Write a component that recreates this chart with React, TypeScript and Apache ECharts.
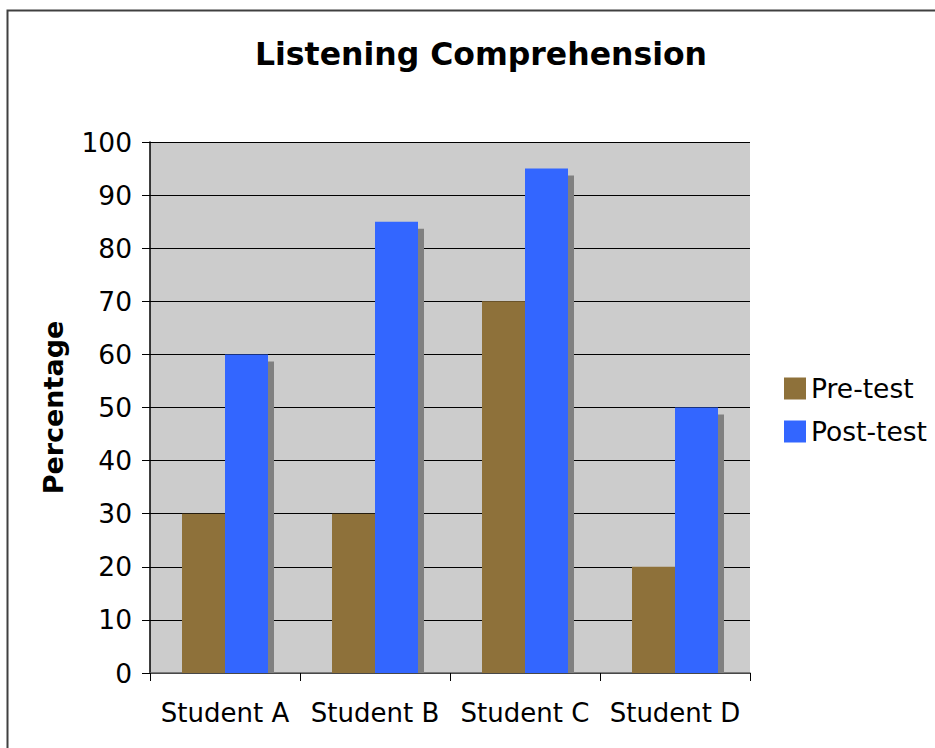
import React, { useEffect, useRef } from "react";
import * as echarts from "echarts";

const categories = ["Student A", "Student B", "Student C", "Student D"];
const preTest = [30, 30, 70, 20];
const postTest = [60, 85, 95, 50];
const seriesNames = ["Pre-test", "Post-test"];
const titleText = "Listening Comprehension";
const yAxisName = "Percentage";

const FONT = "'DejaVu Sans', Verdana, sans-serif";
const BAR_W = 43;

export default function App() {
  const ref = useRef<HTMLDivElement>(null);
  useEffect(() => {
    document.body.style.margin = "0";
    const chart = echarts.init(ref.current!, null, { renderer: "svg" });
    chart.setOption({
      animation: false,
      backgroundColor: "#ffffff",
      textStyle: { fontFamily: FONT },
      title: {
        text: titleText,
        left: 476,
        top: 33,
        textAlign: "center",
        textStyle: { fontFamily: FONT, fontSize: 31.5, fontWeight: "bold", color: "#000" },
      },
      legend: {
        data: seriesNames,
        orient: "vertical",
        left: 779,
        top: 370,
        itemWidth: 22,
        itemHeight: 22,
        itemGap: 16,
        icon: "rect",
        textStyle: { fontFamily: FONT, fontSize: 26.5, lineHeight: 22, color: "#000" },
      },
      graphic: [
        {
          type: "rect",
          shape: { x: 7.5, y: 10.5, width: 1000, height: 1000 },
          style: { fill: "none", stroke: "#404040", lineWidth: 2 },
          silent: true,
        },
      ],
      grid: {
        left: 150,
        top: 142,
        width: 600,
        height: 531,
        show: true,
        backgroundColor: "#CCCCCC",
        borderWidth: 0,
      },
      xAxis: {
        type: "category",
        data: categories,
        axisLine: { show: true, lineStyle: { color: "#606060", width: 1.5 } },
        axisTick: { show: true, alignWithLabel: false, length: 8, lineStyle: { color: "#000" } },
        axisLabel: { fontFamily: FONT, fontSize: 26, color: "#000", margin: 27, interval: 0 },
      },
      yAxis: {
        type: "value",
        min: 0,
        max: 100,
        interval: 10,
        name: yAxisName,
        nameLocation: "middle",
        nameRotate: 90,
        nameGap: 83,
        nameTextStyle: { fontFamily: FONT, fontSize: 27, fontWeight: "bold", color: "#000" },
        axisLine: { show: true, lineStyle: { color: "#000", width: 1.5 } },
        axisTick: { show: true, length: 8, lineStyle: { color: "#000" } },
        axisLabel: { fontFamily: FONT, fontSize: 26.5, color: "#000", margin: 18 },
        splitLine: { show: true, lineStyle: { color: "#000", width: 1 } },
      },
      series: [
        {
          name: "shadow",
          type: "custom",
          z: 1,
          data: postTest.map((v, i) => [i, v]),
          renderItem: (params: any, api: any) => {
            const c = api.coord([api.value(0), api.value(1)]);
            const b = api.coord([api.value(0), 0]);
            const x = c[0] + BAR_W;
            const y = c[1] + 7;
            return {
              type: "rect",
              shape: { x, y, width: 6, height: b[1] - y },
              style: { fill: "#808080" },
            };
          },
          silent: true,
        },
        {
          name: seriesNames[0],
          type: "bar",
          z: 2,
          data: preTest,
          barWidth: BAR_W,
          barGap: "0%",
          itemStyle: { color: "#8E713A" },
        },
        {
          name: seriesNames[1],
          type: "bar",
          z: 2,
          data: postTest,
          barWidth: BAR_W,
          barGap: "0%",
          itemStyle: { color: "#3366FF" },
        },
      ],
    });
    return () => chart.dispose();
  }, []);
  return <div ref={ref} style={{ width: 935, height: 748 }} />;
}
